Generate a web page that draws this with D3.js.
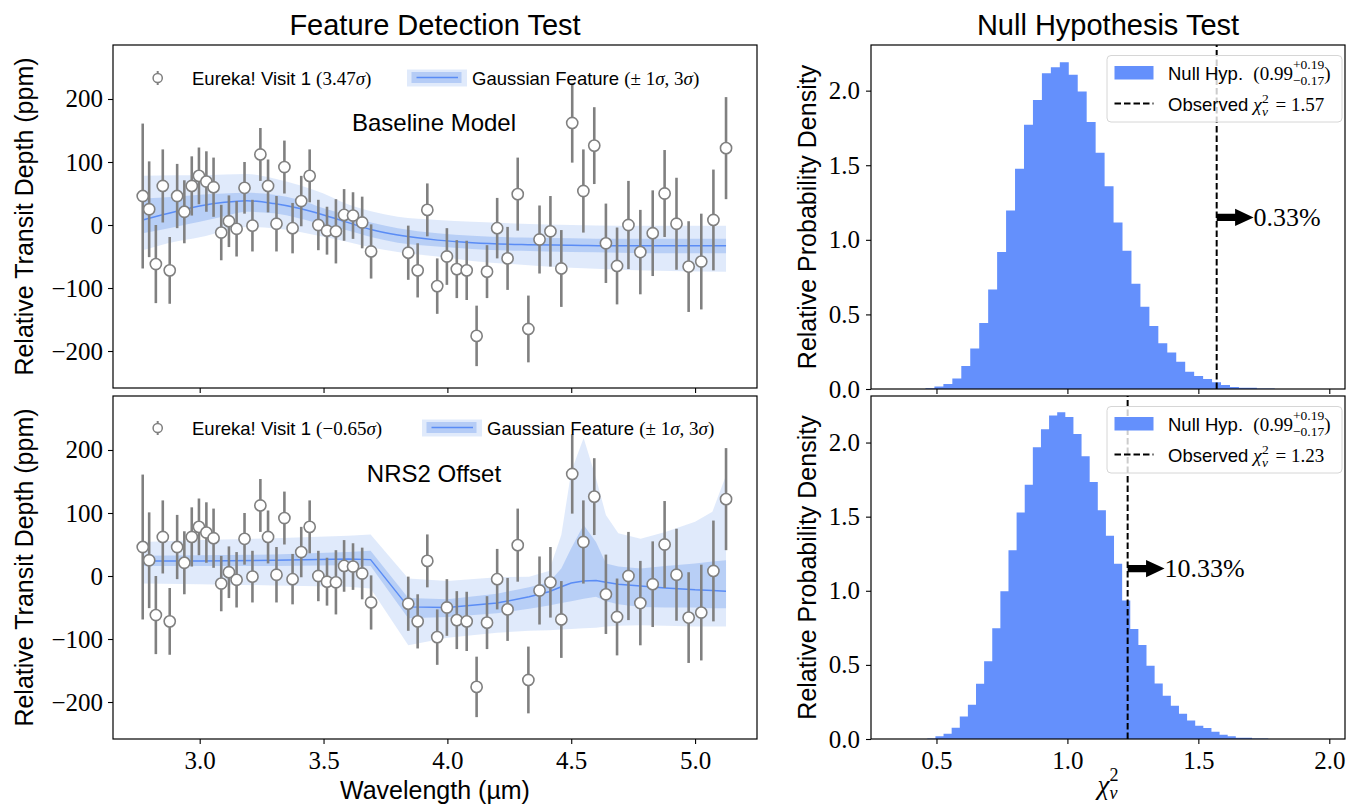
<!DOCTYPE html>
<html>
<head>
<meta charset="utf-8">
<script src="https://cdn.jsdelivr.net/npm/d3@7"></script>
<style>
  html, body { margin: 0; padding: 0; background: #fff; }
  svg text { white-space: pre; }
</style>
</head>
<body>
<svg id="fig" width="1350" height="808"></svg>
<script>
// ---------- spectrum (same points in both left panels) ----------
const wavelength = [2.770,2.796,2.823,2.851,2.879,2.909,2.938,2.968,2.997,3.027,
                    3.056,3.087,3.118,3.149,3.181,3.213,3.245,3.276,3.310,3.342,
                    3.375,3.410,3.444,3.479,3.514,3.550,3.583,3.619,3.656,3.692,
                    3.842,3.880,3.919,3.959,3.998,4.038,4.078,4.118,4.160,4.201,
                    4.243,4.284,4.327,4.372,4.416,4.460,4.504,4.549,4.593,4.640,
                    4.685,4.731,4.779,4.829,4.877,4.925,4.974,5.025,5.074,5.125];
const depth = [46,25,-62,62,-72,46,21,62,78,69,
               60,-12,6,-6,59,-1,112,62,2,92,
               -5,38,78,0,-9,-10,16,15,4,-42,
               -44,-72,24,-97,-50,-70,-72,-176,-74,-5,
               -53,49,-165,-23,-10,-69,162,54,126,-29,
               -65,0,-43,-13,50,2,-66,-58,8,122];
const depthErr = [115,76,62,58,53,51,50,47,45,48,
                  47,44,41,44,41,41,42,42,44,42,
                  40,40,42,40,38,51,41,37,41,43,
                  43,43,42,44,45,46,47,48,42,48,
                  50,58,53,54,56,61,63,66,61,63,
                  61,70,67,68,69,73,72,76,80,81];

// ---------- Gaussian feature fit, baseline model ----------
const baseWave = [2.77,2.90,3.00,3.10,3.19,3.30,3.40,3.50,3.59,3.70,3.80,3.96,4.10,4.30,4.50,4.70,4.90,5.125];
const baseMed  = [8,21,30,36,38.6,34,26.5,16,5,-8,-16,-24,-28,-31,-32,-33,-33,-33];
const baseLo1  = [-13,-3,5,14,21,18.5,10.6,0,-8,-20,-28,-34,-38,-41,-43,-44,-45,-45];
const baseHi1  = [42,45,48,50,51,48,40,26.5,16,3,-5,-13,-17,-20,-21,-22,-22,-22];
const baseLo3  = [-40,-26.5,-19.6,-10,-3,-5,-10.6,-18.6,-26,-36,-43,-50,-57,-63,-68,-71,-73,-74];
const baseHi3  = [78,79,79,80,81,74,63.5,50,34,21,13,8,5,2,0,-1,-1,-1];

// ---------- Gaussian feature fit, NRS2 offset model ----------
const offWave = [2.77,3.00,3.30,3.60,3.69,3.842,4.00,4.20,4.33,4.41,4.46,4.50,4.55,4.60,4.64,4.69,4.78,4.88,5.00,5.07,5.125];
const offMed  = [24,24,25,27,26,-49,-50,-43,-33,-25,-17,-11,-8,-7,-10,-13,-16,-19,-22,-23,-24];
const offLo1  = [16,16,16,17,16,-67,-65,-59,-52,-47,-43,-40,-36,-33,-40,-45,-49,-50,-50,-51,-51];
const offHi1  = [32,33,34,38,40,-35,-37,-28,-18,-10,12,44,81,54,20,15,12,16,20,23,25];
const offLo3  = [-12,-13,-15,-17,-20,-110,-98,-90,-87,-86,-85,-84,-83,-82,-80,-79,-78,-79,-80,-80,-80];
const offHi3  = [54,57,60,64,66,-4,-8,-2,-1,8,65,166,219,155,97,68,59,70,86,102,160];

// ---------- null-hypothesis reduced chi-square histograms ----------
const nullBinStartTop = 0.458, nullBinWidthTop = 0.0342;
const nullDensityTop = [0.005,0.016,0.033,0.071,0.154,0.272,0.442,0.667,0.919,1.196,
                        1.477,1.772,1.937,2.117,2.157,2.191,2.106,1.995,1.789,1.584,
                        1.359,1.116,0.926,0.705,0.551,0.422,0.306,0.245,0.183,0.116,
                        0.087,0.067,0.045,0.027,0.013,0.009,0.008,0.004,0.004];
const nullBinStartBot = 0.465, nullBinWidthBot = 0.031;
const nullDensityBot = [0.004,0.018,0.036,0.076,0.151,0.231,0.373,0.524,0.748,0.996,
                        1.274,1.528,1.715,1.969,2.090,2.182,2.204,2.173,2.058,1.908,
                        1.733,1.544,1.371,1.182,0.935,0.742,0.634,0.494,0.375,0.292,
                        0.225,0.171,0.124,0.090,0.074,0.049,0.029,0.018,0.009,0.009,
                        0.004,0.004];
const observedChi2 = [1.57, 1.23];
const tailPercent = ["0.33%", "10.33%"];

// ---------- tick values ----------
const depthTicks = [-200,-100,0,100,200];
const waveTicks = [3.0,3.5,4.0,4.5,5.0];
const densityTicks = [0,0.5,1.0,1.5,2.0];
const chi2Ticks = [0.5,1.0,1.5,2.0];

// ---------------------------------------------------------------
const SANS = "'Liberation Sans', Arial, sans-serif";
const SERIF = "'Liberation Serif', 'Times New Roman', serif";
const BLUE = "#6495ed";
const HIST = "#6490fc";
const GRAY = "#808080";

const svg = d3.select("#fig");
const defs = svg.append("defs");

// lays out a run of mixed-font text pieces, with optional stacked super/subscripts
function richText(parent, x, y, parts, anchor) {
  const g = parent.append("g");
  let cx = 0;
  parts.forEach(p => {
    if (p.sup !== undefined || p.sub !== undefined) {
      let w = 0;
      [["sup", p.supDy], ["sub", p.subDy]].forEach(([k, dy]) => {
        if (p[k] === undefined) return;
        const t = g.append("text").attr("x", cx).attr("y", dy)
          .style("font-family", SERIF).style("font-size", p.s + "px")
          .style("font-style", p[k + "It"] ? "italic" : "normal")
          .text(p[k]);
        w = Math.max(w, t.node().getComputedTextLength());
      });
      cx += w + (p.gap || 0);
    } else {
      const t = g.append("text").attr("x", cx).attr("y", p.dy || 0)
        .style("font-family", p.f === "sans" ? SANS : SERIF)
        .style("font-size", p.s + "px")
        .style("font-style", p.it ? "italic" : "normal")
        .text(p.t);
      cx += t.node().getComputedTextLength() + (p.gap || 0);
    }
  });
  const shift = anchor === "middle" ? -cx / 2 : anchor === "end" ? -cx : 0;
  g.attr("transform", `translate(${x + shift},${y})`);
  return g;
}

function styleAxis(g, fontSize) {
  g.selectAll("path.domain").remove();
  g.selectAll(".tick line").attr("stroke", "#000").attr("stroke-width", 1.1);
  g.selectAll(".tick text").style("font-family", SERIF).style("font-size", fontSize + "px").attr("fill", "#000");
}

// ---------- left column ----------
const L = { x0: 113, x1: 757 };
const leftPanels = [
  { top: 45, bottom: 388, med: baseMed, lo1: baseLo1, hi1: baseHi1, lo3: baseLo3, hi3: baseHi3,
    grid: baseWave, curve: d3.curveMonotoneX, label: "Baseline Model", labelY: 131,
    sig: "3.47", legendY: 78, patchX: 407, gaussTextX: 472, xLabels: false },
  { top: 396, bottom: 739, med: offMed, lo1: offLo1, hi1: offHi1, lo3: offLo3, hi3: offHi3,
    grid: offWave, curve: d3.curveLinear, label: "NRS2 Offset", labelY: 482,
    sig: "\u22120.65", legendY: 428, patchX: 422, gaussTextX: 487, xLabels: true }
];

const x = d3.scaleLinear().domain([2.65, 5.25]).range([L.x0, L.x1]);

leftPanels.forEach((P, i) => {
  const y = d3.scaleLinear().domain([-258.7, 285.7]).range([P.bottom, P.top]);
  const g = svg.append("g");
  const clipId = "clipL" + i;
  defs.append("clipPath").attr("id", clipId).append("rect")
    .attr("x", L.x0).attr("y", P.top).attr("width", L.x1 - L.x0).attr("height", P.bottom - P.top);
  const plot = g.append("g").attr("clip-path", `url(#${clipId})`);

  const rows = P.grid.map((w, k) => ({ w, m: P.med[k], lo1: P.lo1[k], hi1: P.hi1[k], lo3: P.lo3[k], hi3: P.hi3[k] }));
  const band = (lo, hi) => d3.area().x(d => x(d.w)).y0(d => y(d[lo])).y1(d => y(d[hi])).curve(P.curve);
  plot.append("path").attr("d", band("lo3", "hi3")(rows)).attr("fill", BLUE).attr("fill-opacity", 0.2);
  plot.append("path").attr("d", band("lo1", "hi1")(rows)).attr("fill", BLUE).attr("fill-opacity", 0.32);
  plot.append("path").attr("d", d3.line().x(d => x(d.w)).y(d => y(d.m)).curve(P.curve)(rows))
    .attr("fill", "none").attr("stroke", "#5a8cf5").attr("stroke-width", 1.5);

  const pts = wavelength.map((w, k) => ({ w, v: depth[k], e: depthErr[k] }));
  plot.selectAll("line.err").data(pts).join("line").attr("class", "err")
    .attr("x1", d => x(d.w)).attr("x2", d => x(d.w))
    .attr("y1", d => y(d.v - d.e)).attr("y2", d => y(d.v + d.e))
    .attr("stroke", GRAY).attr("stroke-width", 2.6);
  plot.selectAll("circle.pt").data(pts).join("circle").attr("class", "pt")
    .attr("cx", d => x(d.w)).attr("cy", d => y(d.v)).attr("r", 5.6)
    .attr("fill", "#fff").attr("stroke", GRAY).attr("stroke-width", 1.6);

  // axes
  const ax = g.append("g").attr("transform", `translate(0,${P.bottom})`)
    .call(d3.axisBottom(x).tickValues(waveTicks).tickSize(5).tickSizeOuter(0).tickPadding(7)
      .tickFormat(P.xLabels ? d3.format(".1f") : ""));
  styleAxis(ax, 25);
  const ay = g.append("g").attr("transform", `translate(${L.x0},0)`)
    .call(d3.axisLeft(y).tickValues(depthTicks).tickSize(5).tickSizeOuter(0).tickPadding(5)
      .tickFormat(d => (d < 0 ? "\u2212" : "") + Math.abs(d)));
  styleAxis(ay, 25);
  g.append("rect").attr("x", L.x0).attr("y", P.top).attr("width", L.x1 - L.x0).attr("height", P.bottom - P.top)
    .attr("fill", "none").attr("stroke", "#000").attr("stroke-width", 1.2);

  // y label
  g.append("text").attr("transform", `translate(33,${(P.top + P.bottom) / 2}) rotate(-90)`)
    .attr("text-anchor", "middle").style("font-family", SANS).style("font-size", "25px")
    .text("Relative Transit Depth (ppm)");

  // panel label
  g.append("text").attr("x", 434).attr("y", P.labelY).attr("text-anchor", "middle")
    .style("font-family", SANS).style("font-size", "24px").text(P.label);

  // legend: data marker
  const ly = P.legendY;
  g.append("line").attr("x1", 157.7).attr("x2", 157.7).attr("y1", ly - 7).attr("y2", ly + 7)
    .attr("stroke", GRAY).attr("stroke-width", 2);
  g.append("circle").attr("cx", 157.7).attr("cy", ly).attr("r", 4.6)
    .attr("fill", "#fff").attr("stroke", GRAY).attr("stroke-width", 1.5);
  richText(g, 192, ly + 7, [
    { t: "Eureka! Visit 1 ", f: "sans", s: 18.5 },
    { t: "(" + P.sig, s: 19 }, { t: "\u03c3", s: 19, it: true }, { t: ")", s: 19 }
  ]);
  // legend: model patch
  g.append("rect").attr("x", P.patchX).attr("y", ly - 8.5).attr("width", 60).attr("height", 17)
    .attr("fill", BLUE).attr("fill-opacity", 0.2);
  g.append("rect").attr("x", P.patchX + 4.5).attr("y", ly - 6).attr("width", 50).attr("height", 11)
    .attr("fill", BLUE).attr("fill-opacity", 0.35);
  g.append("line").attr("x1", P.patchX + 9.5).attr("x2", P.patchX + 51).attr("y1", ly - 0.5).attr("y2", ly - 0.5)
    .attr("stroke", "#5a8cf5").attr("stroke-width", 1.5);
  richText(g, P.gaussTextX, ly + 7, [
    { t: "Gaussian Feature ", f: "sans", s: 18.5 },
    { t: "(\u00b1 1", s: 19 }, { t: "\u03c3", s: 19, it: true },
    { t: ", 3", s: 19 }, { t: "\u03c3", s: 19, it: true }, { t: ")", s: 19 }
  ]);
});

svg.append("text").attr("x", 435).attr("y", 35).attr("text-anchor", "middle")
  .style("font-family", SANS).style("font-size", "29px").text("Feature Detection Test");
svg.append("text").attr("x", 435).attr("y", 799).attr("text-anchor", "middle")
  .style("font-family", SANS).style("font-size", "25px").text("Wavelength (\u00b5m)");

// ---------- right column ----------
const R = { x0: 871, x1: 1345 };
const xr = d3.scaleLinear().domain([0.25, 2.06]).range([R.x0, R.x1]);
const rightPanels = [
  { top: 45, bottom: 389, ymax: 2.306, start: nullBinStartTop, width: nullBinWidthTop, dens: nullDensityTop,
    obs: observedChi2[0], pct: tailPercent[0], legendTop: 55.5, xLabels: false },
  { top: 396, bottom: 739, ymax: 2.314, start: nullBinStartBot, width: nullBinWidthBot, dens: nullDensityBot,
    obs: observedChi2[1], pct: tailPercent[1], legendTop: 406.5, xLabels: true }
];

rightPanels.forEach((P, i) => {
  const y = d3.scaleLinear().domain([0, P.ymax]).range([P.bottom, P.top]);
  const g = svg.append("g");
  const clipId = "clipR" + i;
  defs.append("clipPath").attr("id", clipId).append("rect")
    .attr("x", R.x0).attr("y", P.top).attr("width", R.x1 - R.x0).attr("height", P.bottom - P.top);
  const plot = g.append("g").attr("clip-path", `url(#${clipId})`);

  // histogram as one stepped outline
  const steps = [];
  P.dens.forEach((d, k) => {
    const e0 = P.start + k * P.width, e1 = e0 + P.width;
    steps.push([e0, d], [e1, d]);
  });
  const first = steps[0][0], last = steps[steps.length - 1][0];
  const outline = [[first, 0], ...steps, [last, 0]];
  plot.append("path").attr("d", d3.line().x(d => xr(d[0])).y(d => y(d[1]))(outline) + "Z")
    .attr("fill", HIST);

  // observed value
  plot.append("line").attr("x1", xr(P.obs)).attr("x2", xr(P.obs)).attr("y1", y(0)).attr("y2", y(P.ymax))
    .attr("stroke", "#000").attr("stroke-width", 2).attr("stroke-dasharray", "6.5,3");

  // tail arrow + percentage
  const ay0 = y(1.15), ax0 = xr(P.obs), ax1 = xr(P.obs + 0.141);
  const head = 18.5, sh = 3.6, hh = 8.6;
  plot.append("path").attr("d",
    `M${ax0},${ay0 - sh}L${ax1 - head},${ay0 - sh}L${ax1 - head},${ay0 - hh}L${ax1},${ay0}` +
    `L${ax1 - head},${ay0 + hh}L${ax1 - head},${ay0 + sh}L${ax0},${ay0 + sh}Z`).attr("fill", "#000");
  g.append("text").attr("x", ax1).attr("y", ay0 + 8.5)
    .style("font-family", SERIF).style("font-size", "26px").text(P.pct);

  // axes
  const axb = g.append("g").attr("transform", `translate(0,${P.bottom})`)
    .call(d3.axisBottom(xr).tickValues(chi2Ticks).tickSize(5).tickSizeOuter(0).tickPadding(7)
      .tickFormat(P.xLabels ? d3.format(".1f") : ""));
  styleAxis(axb, 25);
  const ayl = g.append("g").attr("transform", `translate(${R.x0},0)`)
    .call(d3.axisLeft(y).tickValues(densityTicks).tickSize(5).tickSizeOuter(0).tickPadding(6)
      .tickFormat(d3.format(".1f")));
  styleAxis(ayl, 25);
  g.append("rect").attr("x", R.x0).attr("y", P.top).attr("width", R.x1 - R.x0).attr("height", P.bottom - P.top)
    .attr("fill", "none").attr("stroke", "#000").attr("stroke-width", 1.2);

  g.append("text").attr("transform", `translate(816,${(P.top + P.bottom) / 2}) rotate(-90)`)
    .attr("text-anchor", "middle").style("font-family", SANS).style("font-size", "25px")
    .text("Relative Probability Density");

  // legend
  const lt = P.legendTop;
  g.append("rect").attr("x", 1107).attr("y", lt).attr("width", 235).attr("height", 66.5).attr("rx", 4)
    .attr("fill", "#fff").attr("fill-opacity", 0.8).attr("stroke", "#d6d6d6").attr("stroke-width", 1);
  g.append("rect").attr("x", 1114.5).attr("y", lt + 10.5).attr("width", 39).attr("height", 13.5).attr("fill", HIST);
  g.append("line").attr("x1", 1114.5).attr("x2", 1153.5).attr("y1", lt + 48).attr("y2", lt + 48)
    .attr("stroke", "#000").attr("stroke-width", 2).attr("stroke-dasharray", "6.5,3");
  richText(g, 1168, lt + 24.5, [
    { t: "Null Hyp.  ", f: "sans", s: 18.5 },
    { t: "(0.99", s: 19 },
    { sup: "+0.19", sub: "\u22120.17", s: 13.5, supDy: -11, subDy: 4.5 },
    { t: ")", s: 19 }
  ]);
  richText(g, 1168, lt + 55, [
    { t: "Observed ", f: "sans", s: 18.5 },
    { t: "\u03c7", s: 19.5, it: true },
    { sup: "2", sub: "\u03bd", subIt: true, s: 13.5, supDy: -8, subDy: 5, gap: 2 },
    { t: " = " + P.obs.toFixed(2), s: 19 }
  ]);
});

svg.append("text").attr("x", 1108).attr("y", 35).attr("text-anchor", "middle")
  .style("font-family", SANS).style("font-size", "29px").text("Null Hypothesis Test");
richText(svg, 1108, 794, [
  { t: "\u03c7", s: 27, it: true },
  { sup: "2", sub: "\u03bd", subIt: true, s: 18, supDy: -13, subDy: 5 }
], "middle");
</script>
</body>
</html>
